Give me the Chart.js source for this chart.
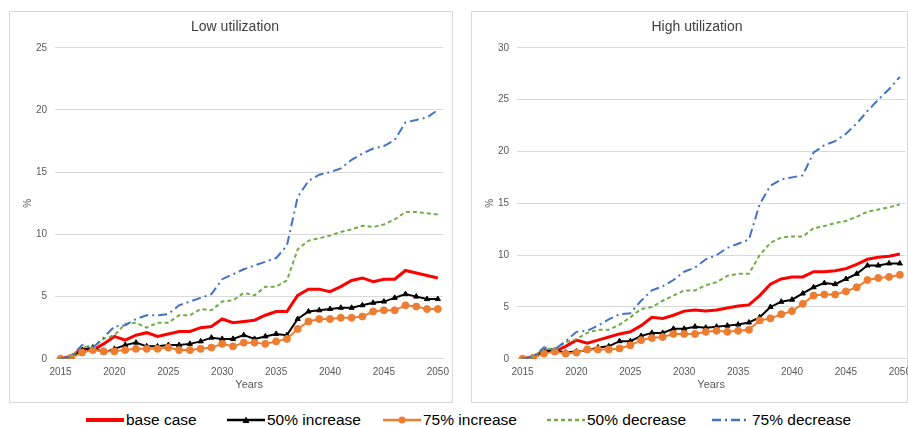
<!DOCTYPE html>
<html>
<head>
<meta charset="utf-8">
<script src="https://cdn.jsdelivr.net/npm/chart.js@4/dist/chart.umd.min.js"></script>
<style>
  html, body { margin: 0; background: #fff; overflow: hidden; font-family: "Liberation Sans", Arial, sans-serif; }
  .panel { position: absolute; top: 11px; height: 390px; border: 1px solid #d9d9d9; background: #fff; }
  #leftPanel { left: 9px; width: 442px; }
  #rightPanel { left: 471px; width: 435px; }
  .chartBox { position: absolute; top: 12px; height: 389px; width: 442px; }
  #lowBox { left: 14px; }
  #highBox { left: 476px; }
  .legend { position: absolute; top: 411px; height: 18px; font-size: 15.5px; color: #000; white-space: nowrap; }
  .legend svg { position: absolute; left: 0; top: 4px; }
  .legend span { position: absolute; top: 0; left: 40px; }
</style>
</head>
<body>
<div class="panel" id="leftPanel"></div>
<div class="panel" id="rightPanel"></div>
<div class="chartBox" id="lowBox"><canvas id="lowChart"></canvas></div>
<div class="chartBox" id="highBox"><canvas id="highChart"></canvas></div>
<div id="legend"></div>
<script>
// categories
const years = [2015, 2016, 2017, 2018, 2019, 2020, 2021, 2022, 2023, 2024, 2025, 2026,
  2027, 2028, 2029, 2030, 2031, 2032, 2033, 2034, 2035, 2036, 2037, 2038,
  2039, 2040, 2041, 2042, 2043, 2044, 2045, 2046, 2047, 2048, 2049, 2050];

const seriesNames = ['base case', '50% increase', '75% increase', '50% decrease', '75% decrease'];

// ==Low utilization
const lowBase = [0, 0.2, 0.8, 0.7, 1.2, 1.8, 1.5, 1.9, 2.1, 1.8, 2.0, 2.2, 2.2, 2.5, 2.6, 3.2, 2.9, 3.0,
  3.1, 3.5, 3.8, 3.8, 5.1, 5.6, 5.6, 5.4, 5.8, 6.3, 6.5, 6.2, 6.4, 6.4, 7.1, 6.9, 6.7, 6.5];
const low50Inc = [0, 0.1, 0.7, 0.9, 0.5, 0.8, 1.1, 1.3, 1.0, 1.0, 1.1, 1.1, 1.2, 1.4, 1.7, 1.6, 1.6, 1.9,
  1.6, 1.8, 2.0, 1.9, 3.2, 3.8, 3.9, 4.0, 4.1, 4.1, 4.3, 4.5, 4.6, 4.9, 5.2, 5.0, 4.8, 4.8];
const low75Inc = [0, 0.1, 0.5, 0.7, 0.6, 0.6, 0.7, 0.8, 0.8, 0.8, 0.9, 0.7, 0.7, 0.8, 0.9, 1.2, 1.0, 1.3,
  1.3, 1.2, 1.4, 1.6, 2.4, 3.0, 3.2, 3.2, 3.3, 3.3, 3.4, 3.8, 3.9, 3.9, 4.3, 4.2, 4.0, 4.0];
const low50Dec = [0, 0.2, 1.0, 0.9, 1.6, 1.9, 2.8, 2.9, 2.5, 2.9, 2.9, 3.5, 3.5, 4.0, 3.9, 4.6, 4.7, 5.3,
  5.1, 5.8, 5.8, 6.3, 8.8, 9.5, 9.7, 9.9, 10.2, 10.4, 10.7, 10.6, 10.8, 11.2, 11.8, 11.8, 11.7, 11.6];
const low75Dec = [0, 0.2, 1.1, 0.9, 1.7, 2.6, 2.7, 3.2, 3.5, 3.5, 3.6, 4.3, 4.6, 4.9, 5.2, 6.4, 6.8, 7.2,
  7.5, 7.8, 8.1, 9.1, 13.0, 14.3, 14.8, 15.0, 15.3, 16.0, 16.5, 16.9, 17.1, 17.6, 19.0, 19.2, 19.4, 20.0];

// ==High utilization
const highBase = [0, 0.2, 0.8, 0.7, 1.2, 1.8, 1.5, 1.8, 2.1, 2.4, 2.6, 3.2, 4.0, 3.9, 4.2, 4.6, 4.7, 4.6,
  4.7, 4.9, 5.1, 5.2, 6.1, 7.2, 7.7, 7.9, 7.9, 8.4, 8.4, 8.5, 8.7, 9.1, 9.6, 9.8, 9.9, 10.1];
const high50Inc = [0, 0.1, 0.7, 0.8, 0.6, 0.7, 0.8, 1.1, 1.2, 1.7, 1.7, 2.2, 2.5, 2.5, 2.9, 2.9, 3.1, 3.0,
  3.1, 3.2, 3.3, 3.5, 4.0, 5.0, 5.5, 5.7, 6.3, 6.9, 7.3, 7.2, 7.7, 8.2, 9.0, 9.0, 9.2, 9.2];
const high75Inc = [0, 0.1, 0.5, 0.7, 0.5, 0.6, 0.9, 0.9, 0.9, 1.0, 1.3, 1.8, 2.0, 2.1, 2.4, 2.4, 2.4, 2.6,
  2.7, 2.6, 2.7, 2.8, 3.7, 3.9, 4.3, 4.6, 5.3, 6.1, 6.2, 6.2, 6.5, 6.9, 7.6, 7.8, 7.9, 8.1];
const high50Dec = [0, 0.2, 1.0, 0.9, 1.6, 1.9, 2.5, 2.8, 2.8, 3.3, 4.0, 4.8, 5.0, 5.6, 6.1, 6.6, 6.6, 7.1,
  7.4, 8.0, 8.2, 8.2, 10.0, 11.2, 11.7, 11.8, 11.8, 12.6, 12.8, 13.1, 13.3, 13.7, 14.2, 14.4, 14.6, 14.9];
const high75Dec = [0, 0.2, 1.1, 0.9, 1.7, 2.6, 2.7, 3.2, 3.8, 4.3, 4.4, 5.6, 6.6, 7.0, 7.6, 8.4, 8.8, 9.6,
  10.0, 10.7, 11.1, 11.5, 14.9, 16.7, 17.3, 17.5, 17.7, 19.9, 20.6, 21.0, 21.7, 22.7, 23.9, 25.0, 26.0, 27.2];

// line styles per scenario
const styles = [
  { color: '#ff0000', width: 3, dash: [], point: false, radius: 0 },
  { color: '#000000', width: 2, dash: [], point: 'triangle', radius: 3 },
  { color: '#ed7d31', width: 2, dash: [], point: 'circle', radius: 3.5 },
  { color: '#70ad47', width: 2, dash: [4, 3], point: false, radius: 0 },
  { color: '#4472c4', width: 2, dash: [9, 4, 2, 4], point: false, radius: 0 }
];

function makeDatasets(seriesList) {
  return seriesList.map(function (values, i) {
    const s = styles[i];
    return {
      label: seriesNames[i],
      data: values,
      borderColor: s.color,
      backgroundColor: s.color,
      borderWidth: s.width,
      borderDash: s.dash,
      pointStyle: s.point || 'circle',
      pointRadius: s.radius,
      pointBorderWidth: 1,
      pointHoverRadius: s.radius,
      tension: 0,
      fill: false,
      order: 5 - i
    };
  });
}

function makeConfig(title, seriesList, yMax) {
  return {
    type: 'line',
    data: { labels: years, datasets: makeDatasets(seriesList) },
    options: {
      responsive: true,
      maintainAspectRatio: false,
      animation: false,
      layout: { padding: { left: 0, right: 0, top: 2, bottom: 9 } },
      plugins: {
        legend: { display: false },
        tooltip: { enabled: false },
        title: {
          display: true,
          text: title,
          color: '#404040',
          font: { family: 'Liberation Sans', size: 14, weight: 'normal' },
          padding: { top: 5, bottom: 12 }
        }
      },
      scales: {
        x: {
          offset: true,
          grid: { display: false, drawTicks: false },
          border: { display: true, color: '#d9d9d9', width: 1 },
          ticks: {
            autoSkip: false,
            maxRotation: 0,
            color: '#595959',
            font: { family: 'Liberation Sans', size: 10 },
            padding: 7,
            callback: function (val, idx) {
              const y = years[idx];
              return (y - 2015) % 5 === 0 ? String(y) : '';
            }
          },
          title: {
            display: true,
            text: 'Years',
            color: '#595959',
            font: { family: 'Liberation Sans', size: 11 },
            padding: { top: -6, bottom: 0 }
          }
        },
        y: {
          min: 0,
          max: yMax,
          grid: { color: '#d9d9d9', drawTicks: false },
          border: { display: false },
          ticks: {
            stepSize: 5,
            color: '#595959',
            font: { family: 'Liberation Sans', size: 10 },
            padding: 8
          },
          title: {
            display: true,
            text: '%',
            color: '#595959',
            font: { family: 'Liberation Sans', size: 10 },
            padding: { top: 8, bottom: -6 }
          }
        }
      }
    }
  };
}

const lowChart = new Chart(document.getElementById('lowChart'),
  makeConfig('Low utilization', [lowBase, low50Inc, low75Inc, low50Dec, low75Dec], 25));
const highChart = new Chart(document.getElementById('highChart'),
  makeConfig('High utilization', [highBase, high50Inc, high75Inc, high50Dec, high75Dec], 30));

// ==shared legend below both panels
const legendX = [86, 227, 383, 547, 712];
const legendBox = document.getElementById('legend');
seriesNames.forEach(function (name, i) {
  const s = styles[i];
  const item = document.createElement('div');
  item.className = 'legend';
  item.style.left = legendX[i] + 'px';
  let marker = '';
  if (s.point === 'triangle') marker = '<polygon points="19,1.5 22.5,8 15.5,8" fill="#000"/>';
  if (s.point === 'circle') marker = '<circle cx="19" cy="5" r="3.5" fill="' + s.color + '"/>';
  item.innerHTML =
    '<svg width="39" height="10"><line x1="0" y1="5" x2="38" y2="5" stroke="' + s.color +
    '" stroke-width="' + (i === 0 ? 4 : 2.5) + '" stroke-dasharray="' + s.dash.join(',') + '"/>' + marker + '</svg>' +
    '<span>' + name + '</span>';
  legendBox.appendChild(item);
});
</script>
</body>
</html>
